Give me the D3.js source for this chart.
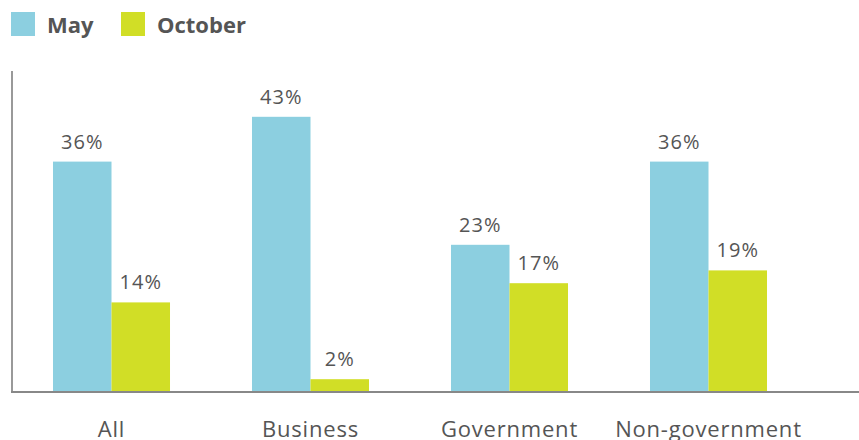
<!DOCTYPE html>
<html>
<head>
<meta charset="utf-8">
<script src="https://cdn.jsdelivr.net/npm/d3@7"></script>
<style>
  body { margin: 0; background: #fff; }
  text { font-family: "Open Sans", "Noto Sans", sans-serif; fill: #555; }
</style>
</head>
<body>
<div id="chart"></div>
<script>
const categories = ["All", "Business", "Government", "Non-government"];
const seriesNames = ["May", "October"];
const mayValues = [36, 43, 23, 36];
const octoberValues = [14, 2, 17, 19];
const colors = ["#8ccfe0", "#d1de26"];

let width = 859,
    height = 440;

const svg = d3.select("#chart")
      .append("svg")
      .attr("width", width)
      .attr("height", height);

const rows = categories.map(function (c, i) {
  return { category: c, values: [mayValues[i], octoberValues[i]] };
});

const x0 = d3.scaleBand()
  .domain(categories)
  .range([12, 808])
  .paddingInner(0.412)
  .paddingOuter(0.206);

const x1 = d3.scaleBand()
  .domain(seriesNames)
  .range([0, x0.bandwidth()]);

const y = d3.scaleLinear()
  .domain([0, 50])
  .range([392, 72]);

// bars
const group = svg.selectAll(".group")
  .data(rows)
  .enter().append("g")
  .attr("class", "group")
  .attr("transform", function (d) { return "translate(" + x0(d.category) + ",0)"; });

group.selectAll("rect")
  .data(function (d) { return d.values.map(function (v, i) { return { name: seriesNames[i], value: v, i: i }; }); })
  .enter().append("rect")
  .attr("x", function (d) { return x1(d.name); })
  .attr("y", function (d) { return y(d.value); })
  .attr("width", x1.bandwidth())
  .attr("height", function (d) { return y(0) - y(d.value); })
  .style("fill", function (d) { return colors[d.i]; });

group.selectAll(".val")
  .data(function (d) { return d.values.map(function (v, i) { return { name: seriesNames[i], value: v }; }); })
  .enter().append("text")
  .attr("class", "val")
  .attr("x", function (d) { return x1(d.name) + x1.bandwidth() / 2; })
  .attr("y", function (d) { return y(d.value) - 13; })
  .attr("text-anchor", "middle")
  .style("font-size", "20px")
  .style("letter-spacing", "1px")
  .text(function (d) { return d.value + "%"; });

// axes
svg.append("line")
  .attr("x1", 12).attr("x2", 12)
  .attr("y1", 71).attr("y2", 392)
  .style("stroke", "#777").style("stroke-width", 1.5);

svg.append("line")
  .attr("x1", 11).attr("x2", width)
  .attr("y1", 392).attr("y2", 392)
  .style("stroke", "#888").style("stroke-width", 2);

svg.selectAll(".cat")
  .data(categories)
  .enter().append("text")
  .attr("class", "cat")
  .attr("x", function (d) { return x0(d) + x0.bandwidth() / 2; })
  .attr("y", 437)
  .attr("text-anchor", "middle")
  .style("font-size", "22px")
  .style("letter-spacing", "0.8px")
  .text(function (d) { return d; });

// legend
const legendX = [11, 121];
const legend = svg.selectAll(".legend")
  .data(seriesNames)
  .enter().append("g")
  .attr("class", "legend")
  .attr("transform", function (d, i) { return "translate(" + legendX[i] + ",12)"; });

legend.append("rect")
  .attr("width", 24).attr("height", 24)
  .style("fill", function (d, i) { return colors[i]; });

legend.append("text")
  .attr("x", 36).attr("y", 21)
  .style("font-size", "22px")
  .style("font-weight", "bold")
  .text(function (d) { return d; });
</script>
</body>
</html>
